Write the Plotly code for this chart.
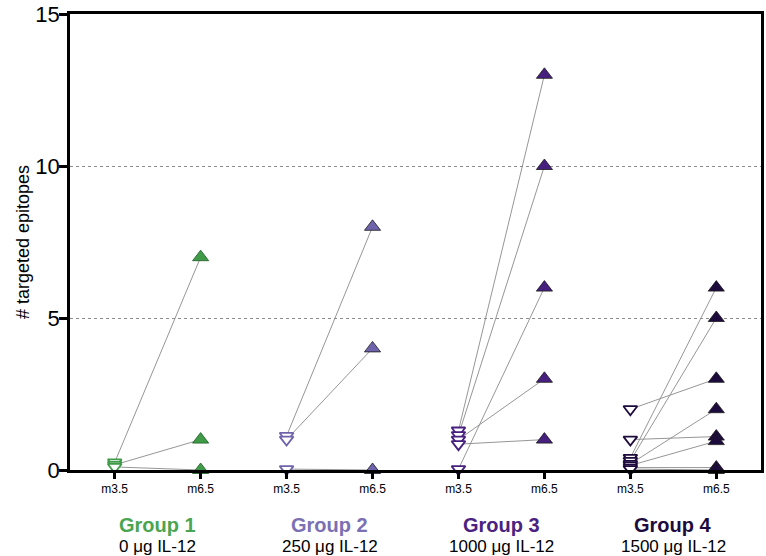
import plotly.graph_objects as go

# ---------------- data ----------------
timepoints = ["m3.5", "m6.5"]
group_names = ["Group 1", "Group 2", "Group 3", "Group 4"]
dose_labels = ["0 \u03bcg IL-12", "250 \u03bcg IL-12", "1000 \u03bcg IL-12", "1500 \u03bcg IL-12"]
group_colors = ["#3f9b48", "#6f63ab", "#47207f", "#1e0b3d"]
text_colors = ["#4aa552", "#7a70b3", "#4a2382", "#1e0b3d"]

# epitope counts per animal (m3.5 values as displayed, stacked near ties)
g1_m35 = [0.25, 0.17, 0.10]
g1_m65 = [7, 1, 0]
g2_m35 = [1.12, 1.0, 0.03]
g2_m65 = [8, 4, 0]
g3_m35 = [1.3, 1.15, 1.0, 0.85, 0.03]
g3_m65 = [13, 10, 3, 1, 6]
g4_m35 = [2, 1, 0.4, 0.3, 0.2, 0.15, 0.08, 0.03]
g4_m65 = [3, 1.1, 6, 5, 2, 0.95, 0.08, 0]

y_ticks = [0, 5, 10, 15]
y_title = "# targeted epitopes"

groups_m35 = [g1_m35, g2_m35, g3_m35, g4_m35]
groups_m65 = [g1_m65, g2_m65, g3_m65, g4_m65]

fig = go.Figure()

# connecting lines
for gi, (a, b) in enumerate(zip(groups_m35, groups_m65)):
    x0 = 2 * gi + 1
    x1 = 2 * gi + 2
    xs, ys = [], []
    for va, vb in zip(a, b):
        xs += [x0, x1, None]
        ys += [va, vb, None]
    fig.add_trace(go.Scatter(x=xs, y=ys, mode="lines",
                             line=dict(color="#8a8a8a", width=0.9),
                             hoverinfo="skip", showlegend=False, cliponaxis=False))

# markers
for gi, (a, b) in enumerate(zip(groups_m35, groups_m65)):
    x0 = 2 * gi + 1
    x1 = 2 * gi + 2
    col = group_colors[gi]
    fig.add_trace(go.Scatter(x=[x1] * len(b), y=b, mode="markers",
                             marker=dict(symbol="triangle-up", size=14, color=col,
                                         line=dict(color="#1a1a1a" if gi != 0 else "#1f5a25", width=0.8)),
                             showlegend=False, cliponaxis=False))
    fig.add_trace(go.Scatter(x=[x0] * len(a), y=a, mode="markers",
                             marker=dict(symbol="triangle-down", size=12, color="white",
                                         line=dict(color=col, width=1.8)),
                             showlegend=False, cliponaxis=False))

# group labels
for gi in range(4):
    xc = 2 * gi + 1.5
    fig.add_annotation(x=xc, xref="x", y=-0.121, yref="paper", yanchor="middle",
                       text="<b>%s</b>" % group_names[gi], showarrow=False,
                       font=dict(family="Liberation Sans, Arial, sans-serif",
                                 size=20, color=text_colors[gi]))
    fig.add_annotation(x=xc, xref="x", y=-0.168, yref="paper", yanchor="middle",
                       text=dose_labels[gi], showarrow=False,
                       font=dict(family="Liberation Sans, Arial, sans-serif",
                                 size=17, color="black"))

tick_x = list(range(1, 9))
tick_text = timepoints * 4

fig.update_layout(
    width=766, height=556,
    margin=dict(l=70, r=2, t=8, b=86),
    plot_bgcolor="white", paper_bgcolor="white",
    font=dict(family="Liberation Sans, Arial, sans-serif", color="black"),
    xaxis=dict(range=[0.48, 8.52], tickvals=tick_x, ticktext=tick_text,
               showgrid=False, zeroline=False, showline=True, linecolor="black",
               linewidth=2.5, mirror=True, ticks="outside", ticklen=6, tickwidth=2.5,
               tickcolor="black", tickfont=dict(size=12), fixedrange=True),
    yaxis=dict(range=[0, 15], tickvals=y_ticks, showgrid=True, gridcolor="#8c8c8c",
               griddash="dot", gridwidth=1, zeroline=False, showline=True,
               linecolor="black", linewidth=2.5, mirror=True, ticks="outside",
               ticklen=8, tickwidth=2.5, tickcolor="black", tickfont=dict(size=22),
               ticklabeloverflow="allow", ticklabelstandoff=-5, fixedrange=True,
               title=dict(text=y_title, font=dict(size=18), standoff=2)),
)

fig.write_html("out.html", config={"displayModeBar": False},
               post_script="document.body.style.margin='0';")
